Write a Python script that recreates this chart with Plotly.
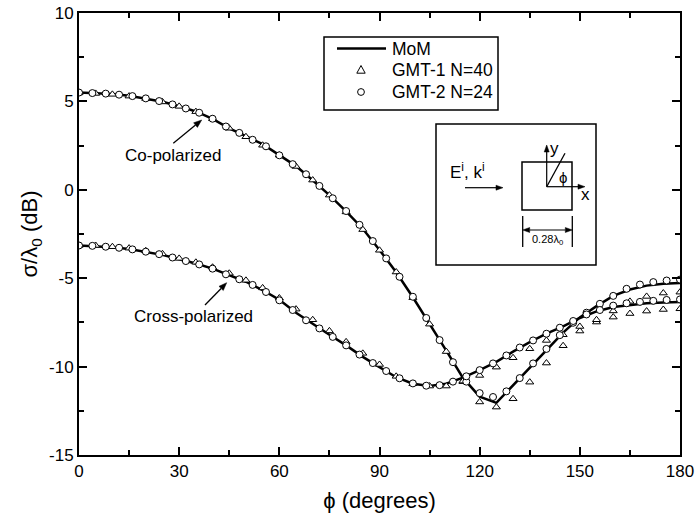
import math
import plotly.graph_objects as go

# ---------------- data ----------------
phi_mom = list(range(0, 181, 5))
co_mom = [5.50, 5.48, 5.42, 5.32, 5.17, 4.98, 4.73, 4.43, 4.01, 3.48, 3.03, 2.58, 1.96,
          1.34, 0.54, -0.30, -1.22, -2.20, -3.40, -4.66, -6.08, -7.57, -9.10, -10.64,
          -11.70, -12.05, -11.05, -10.02, -9.02, -8.08, -7.22, -6.58, -6.00, -5.64,
          -5.42, -5.31, -5.27]
cross_mom = [-3.15, -3.18, -3.25, -3.35, -3.50, -3.68, -3.93, -4.17, -4.46, -4.83, -5.20,
             -5.68, -6.22, -6.95, -7.60, -8.20, -8.80, -9.45, -10.03, -10.60, -10.97,
             -11.10, -10.97, -10.62, -10.20, -9.73, -9.15, -8.62, -8.14, -7.72, -7.25,
             -6.88, -6.63, -6.52, -6.42, -6.37, -6.35]

phi_gmt1 = list(range(0, 181, 5))
co_gmt1 = [5.48, 5.45, 5.40, 5.30, 5.16, 4.97, 4.72, 4.42, 4.02, 3.48, 3.00, 2.52, 1.96,
           1.32, 0.55, -0.30, -1.25, -2.25, -3.42, -4.65, -6.10, -7.60, -9.15, -10.85,
           -12.00, -12.29, -11.82, -10.88, -9.80, -8.82, -7.99, -7.48, -6.85, -6.31,
           -6.03, -5.84, -5.79]
cross_gmt1 = [-3.15, -3.15, -3.22, -3.30, -3.45, -3.62, -3.88, -4.10, -4.38, -4.72, -5.12,
              -5.55, -6.12, -6.75, -7.35, -7.98, -8.60, -9.25, -9.88, -10.55, -10.97,
              -11.10, -11.10, -10.82, -10.50, -10.03, -9.50, -8.99, -8.52, -8.20, -7.73,
              -7.35, -7.20, -7.00, -6.86, -6.77, -6.73]

phi_gmt2 = list(range(0, 181, 4))
co_gmt2 = [5.50, 5.47, 5.44, 5.38, 5.30, 5.17, 5.02, 4.83, 4.60, 4.36, 4.02, 3.58, 3.22,
           2.83, 2.46, 1.95, 1.45, 0.88, 0.22, -0.48, -1.20, -1.98, -2.90, -3.88, -4.92,
           -6.05, -7.25, -8.50, -9.75, -10.85, -11.50, -11.72, -11.40, -10.65, -9.82,
           -9.00, -8.22, -7.52, -6.95, -6.45, -6.00, -5.60, -5.36, -5.22, -5.13, -5.08]
cross_gmt2 = [-3.15, -3.17, -3.22, -3.28, -3.37, -3.50, -3.64, -3.83, -4.03, -4.22,
              -4.46, -4.78, -5.06, -5.38, -5.78, -6.25, -6.80, -7.38, -7.84, -8.32,
              -8.80, -9.32, -9.80, -10.25, -10.66, -10.95, -11.08, -11.05, -10.85, -10.55,
              -10.20, -9.82, -9.37, -8.92, -8.52, -8.14, -7.80, -7.42, -7.05, -6.80,
              -6.55, -6.42, -6.34, -6.28, -6.23, -6.20]

series_names = ["MoM", "GMT-1 N=40", "GMT-2 N=24"]
x_ticks = [0, 30, 60, 90, 120, 150, 180]
y_ticks = [-15, -10, -5, 0, 5, 10]

FONT = "Liberation Sans, Arial, Helvetica, sans-serif"
W, H = 695, 520
L, R, T, B = 79, 15, 13, 65
PW, PH = W - L - R, H - T - B


def px(x):
    return (x - L) / PW


def py(y):
    return (H - B - y) / PH


shapes = []
annotations = []


def arrow(x0, y0, x1, y1, hl=8.0, hw=3.0, width=1.3, both=False):
    """Arrow drawn in page pixels (decoration), converted to paper coords."""
    dx, dy = x1 - x0, y1 - y0
    n = math.hypot(dx, dy)
    ux, uy = dx / n, dy / n
    heads = [(x1, y1, ux, uy)]
    sx, sy = x0, y0
    if both:
        heads.append((x0, y0, -ux, -uy))
        sx, sy = x0 + ux * hl, y0 + uy * hl
    ex, ey = x1 - ux * hl, y1 - uy * hl
    shapes.append(dict(type="line", xref="paper", yref="paper",
                       x0=px(sx), y0=py(sy), x1=px(ex), y1=py(ey),
                       line=dict(color="black", width=width)))
    for hx, hy, vx, vy in heads:
        bx, by = hx - vx * hl, hy - vy * hl
        p1 = (bx - vy * hw, by + vx * hw)
        p2 = (bx + vy * hw, by - vx * hw)
        path = "M {:.5f},{:.5f} L {:.5f},{:.5f} L {:.5f},{:.5f} Z".format(
            px(hx), py(hy), px(p1[0]), py(p1[1]), px(p2[0]), py(p2[1]))
        shapes.append(dict(type="path", xref="paper", yref="paper", path=path,
                           fillcolor="black", line=dict(color="black", width=0.5)))


def txt(s, x, y, size, xanchor="center"):
    annotations.append(dict(x=px(x), y=py(y), xref="paper", yref="paper", text=s,
                            showarrow=False, xanchor=xanchor, yanchor="middle",
                            font=dict(family=FONT, size=size, color="black")))


fig = go.Figure()

fig.add_trace(go.Scatter(x=phi_mom, y=co_mom, mode="lines", name=series_names[0],
                         line=dict(color="black", width=2.5), showlegend=False))
fig.add_trace(go.Scatter(x=phi_mom, y=cross_mom, mode="lines", name=series_names[0],
                         line=dict(color="black", width=2.5), showlegend=False))
mk1 = dict(symbol="triangle-up", size=7, color="white", line=dict(color="black", width=1))
mk2 = dict(symbol="circle", size=7, color="white", line=dict(color="black", width=1))
fig.add_trace(go.Scatter(x=phi_gmt1, y=co_gmt1, mode="markers", name=series_names[1],
                         marker=mk1, showlegend=False))
fig.add_trace(go.Scatter(x=phi_gmt1, y=cross_gmt1, mode="markers", name=series_names[1],
                         marker=mk1, showlegend=False))
fig.add_trace(go.Scatter(x=phi_gmt2, y=co_gmt2, mode="markers", name=series_names[2],
                         marker=mk2, showlegend=False))
fig.add_trace(go.Scatter(x=phi_gmt2, y=cross_gmt2, mode="markers", name=series_names[2],
                         marker=mk2, showlegend=False))

axis_common = dict(showline=True, linecolor="black", linewidth=2, mirror="allticks",
                   ticks="inside", ticklen=8, tickwidth=1.5, tickcolor="black",
                   showgrid=False, zeroline=False, automargin=False,
                   tickfont=dict(family=FONT, size=17, color="black"))

fig.update_xaxes(range=[0, 180], tickvals=x_ticks, ticktext=[str(v) for v in x_ticks],
                 minor=dict(ticks="inside", dtick=15, ticklen=5, tickwidth=1.5,
                            tickcolor="black", showgrid=False),
                 title=dict(text="\u03d5 (degrees)", font=dict(family=FONT, size=22, color="black"),
                            standoff=12),
                 **axis_common)
fig.update_yaxes(range=[-15, 10], tickvals=y_ticks, ticktext=[str(v) for v in y_ticks],
                 minor=dict(ticks="inside", dtick=2.5, ticklen=5, tickwidth=1.5,
                            tickcolor="black", showgrid=False),
                 title=dict(text="\u03c3/\u03bb<sub>0</sub> (dB)",
                            font=dict(family=FONT, size=22, color="black"), standoff=5),
                 **axis_common)

# ---------------- legend (drawn as a boxed key) ----------------
shapes.append(dict(type="rect", xref="paper", yref="paper", x0=px(324), x1=px(498),
                   y0=py(110), y1=py(37), line=dict(color="black", width=1.5),
                   fillcolor="white"))
shapes.append(dict(type="line", xref="paper", yref="paper", x0=px(337), x1=px(386),
                   y0=py(48.5), y1=py(48.5), line=dict(color="black", width=2.5)))
tri = "M {:.5f},{:.5f} L {:.5f},{:.5f} L {:.5f},{:.5f} Z".format(
    px(361), py(65.5), px(356.8), py(73.2), px(365.2), py(73.2))
shapes.append(dict(type="path", xref="paper", yref="paper", path=tri,
                   fillcolor="white", line=dict(color="black", width=1)))
shapes.append(dict(type="circle", xref="paper", yref="paper", x0=px(357.6), x1=px(364.4),
                   y0=py(95.4), y1=py(88.6), fillcolor="white",
                   line=dict(color="black", width=1)))
txt(series_names[0], 390, 48.5, 17.5, xanchor="left")
txt(series_names[1], 390, 70, 17.5, xanchor="left")
txt(series_names[2], 390, 92, 17.5, xanchor="left")

# curve labels with arrows
arrow(173.3, 143.3, 201.7, 120.0)
txt("Co-polarized", 173, 155, 17)
arrow(205.0, 305.0, 226.7, 282.7)
txt("Cross-polarized", 193, 316, 17)

# inset sketch
shapes.append(dict(type="rect", xref="paper", yref="paper", x0=px(436), x1=px(596),
                   y0=py(265), y1=py(124), line=dict(color="black", width=1.5)))
shapes.append(dict(type="rect", xref="paper", yref="paper", x0=px(522), x1=px(572),
                   y0=py(210), y1=py(162), line=dict(color="black", width=1.5)))
shapes.append(dict(type="line", xref="paper", yref="paper", x0=px(546.7), x1=px(565),
                   y0=py(186.7), y1=py(153.3), line=dict(color="black", width=1.3)))
for xv in (522.7, 572.3):
    shapes.append(dict(type="line", xref="paper", yref="paper", x0=px(xv), x1=px(xv),
                       y0=py(247), y1=py(216), line=dict(color="black", width=1.3)))
arrow(465, 187.7, 503, 187.7, hl=7, hw=2.5, width=1.2)
arrow(546.7, 186.7, 546.7, 145, hl=7, hw=2.5, width=1.2)
arrow(546.7, 186.7, 585, 186.7, hl=7, hw=2.5, width=1.2)
arrow(522.7, 230, 572.3, 230, hl=7, hw=2.5, width=1.2, both=True)

txt("E<sup>i</sup>, k<sup>i</sup>", 467, 171, 17)
txt("y", 554, 148, 17)
txt("x", 585, 194, 17)
txt("\u03d5", 563, 177, 15)
txt("0.28\u03bb<sub>0</sub>", 547, 240, 11)

fig.update_layout(
    width=W, height=H,
    margin=dict(l=L, r=R, t=T, b=B, autoexpand=False),
    paper_bgcolor="white", plot_bgcolor="white",
    font=dict(family=FONT, size=17, color="black"),
    showlegend=False,
    annotations=annotations,
    shapes=shapes,
)

fig.write_html("out.html")
